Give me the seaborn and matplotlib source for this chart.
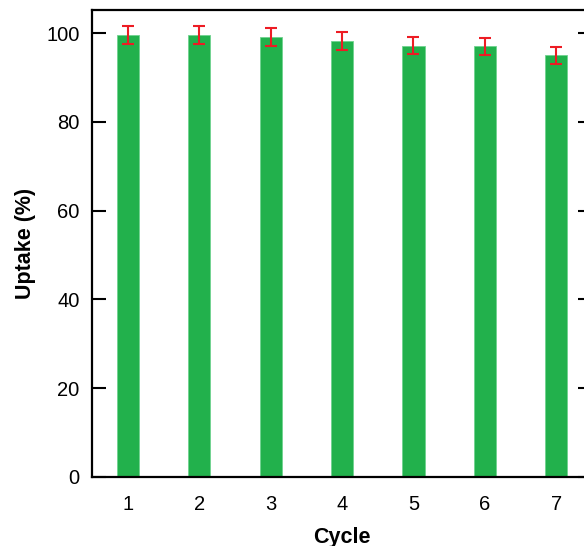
import numpy as np
import pandas as pd
import matplotlib
matplotlib.use("Agg")
import matplotlib.pyplot as plt
import seaborn as sns

cycles = ["1", "2", "3", "4", "5", "6", "7"]
uptake = [99.5, 99.5, 99.2, 98.2, 97.2, 97.0, 95.0]
uptake_err = [2.0, 2.0, 2.0, 2.0, 2.0, 1.95, 1.95]

df = pd.DataFrame({"Cycle": cycles, "Uptake": uptake})

sns.set_style("ticks")
plt.rcParams['font.family'] = ['Liberation Sans', 'DejaVu Sans']
plt.rcParams['text.color'] = 'black'
plt.rcParams['axes.labelcolor'] = 'black'
plt.rcParams['xtick.color'] = 'black'
plt.rcParams['ytick.color'] = 'black'
plt.rcParams['axes.edgecolor'] = 'black'

fig = plt.figure(figsize=(5.84, 5.46), dpi=100)
ax = fig.add_axes([92 / 584, 1 - 477 / 546, 500 / 584, 467 / 546])

sns.barplot(data=df, x="Cycle", y="Uptake", color="#22b14c", saturation=1,
            width=0.31, errorbar=None, edgecolor="#6fd38f", linewidth=0.6, ax=ax)

# 誤差棒
centers = [p.get_x() + p.get_width() / 2 for p in ax.patches]
ax.errorbar(centers, uptake, yerr=uptake_err, fmt="none", ecolor="#ed1c24",
            elinewidth=1.5, capsize=4, capthick=1.5, zorder=3)

ax.set_xlim(-0.5, 6.5)
ax.set_ylim(0, 105.2)
ax.set_yticks([0, 20, 40, 60, 80, 100])
ax.tick_params(axis="y", direction="in", length=10, width=1.5, labelsize=14.5,
               right=True, pad=9)
ax.tick_params(axis="x", length=0, labelsize=14.5, pad=13)
for s in ax.spines.values():
    s.set_linewidth(1.6)
    s.set_visible(True)

ax.set_xlabel("Cycle", fontsize=15.5, fontweight="bold", labelpad=9)
ax.set_ylabel("Uptake (%)", fontsize=15.5, fontweight="bold", labelpad=7)

fig.savefig("out.png", dpi=100)
